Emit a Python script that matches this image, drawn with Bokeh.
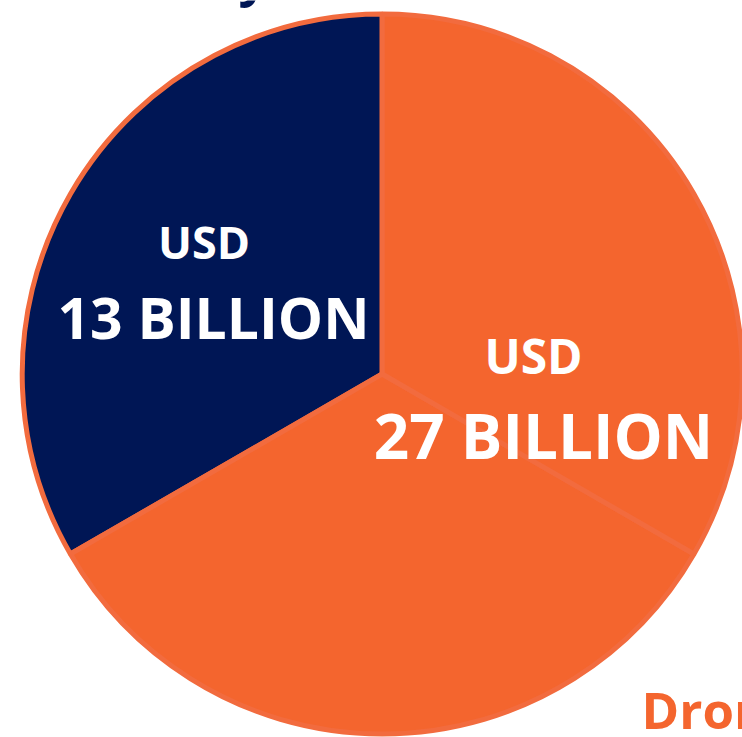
from bokeh.plotting import figure
from bokeh.models import Range1d, ColumnDataSource
from bokeh.core.properties import value
from bokeh.embed import file_html
from bokeh.resources import INLINE
import math

# Data
segments = ["Navy share", "Orange share A", "Orange share B"]
shares = [1, 1, 1]
colors = ["#001655", "#F4652E", "#F4652E"]
label_top = ["USD", "USD"]
label_main = ["13 BILLION", "27 BILLION"]
footer_text = "Drone"
header_text = "y"

W, H = 742, 737
p = figure(width=W, height=H, output_backend="svg", toolbar_location=None,
           x_range=Range1d(0, W), y_range=Range1d(0, H), min_border=0)
p.axis.visible = False
p.grid.visible = False
p.outline_line_color = None
p.background_fill_color = "white"
p.border_fill_color = "white"

cx, cy, r = 381.7, 363.5, 360
start0 = math.pi / 2
total = sum(shares)
starts, ends = [], []
a = start0
for s in shares:
    starts.append(a)
    a += 2 * math.pi * s / total
    ends.append(a)
src = ColumnDataSource(dict(x=[cx] * 3, y=[cy] * 3, start=starts, end=ends, color=colors))
p.wedge(x="x", y="y", radius=r, start_angle="start", end_angle="end", fill_color="color",
        line_color="#F26B3E", line_width=5, source=src)

font = value("Open Sans")
p.text(x=[203.5, 533], y=[496, 382], text=label_top, text_color="white", text_font=font,
       text_font_style="bold", text_font_size=["45px", "48px"], text_align="center",
       text_baseline="alphabetic")
p.text(x=[213, 543], y=[421, 303], text=label_main, text_color="white", text_font=font,
       text_font_style="bold", text_font_size=["57px", "62px"], text_align="center",
       text_baseline="alphabetic")
p.text(x=[641], y=[29], text=[footer_text], text_color="#F4652E", text_font=font,
       text_font_style="bold", text_font_size="51px", text_align="left",
       text_baseline="alphabetic")
p.text(x=[238], y=[763], text=[header_text], text_color="#001655", text_font=font,
       text_font_style="bold", text_font_size="52px", text_align="left",
       text_baseline="alphabetic")

open("out.html", "w").write(file_html(p, INLINE))
